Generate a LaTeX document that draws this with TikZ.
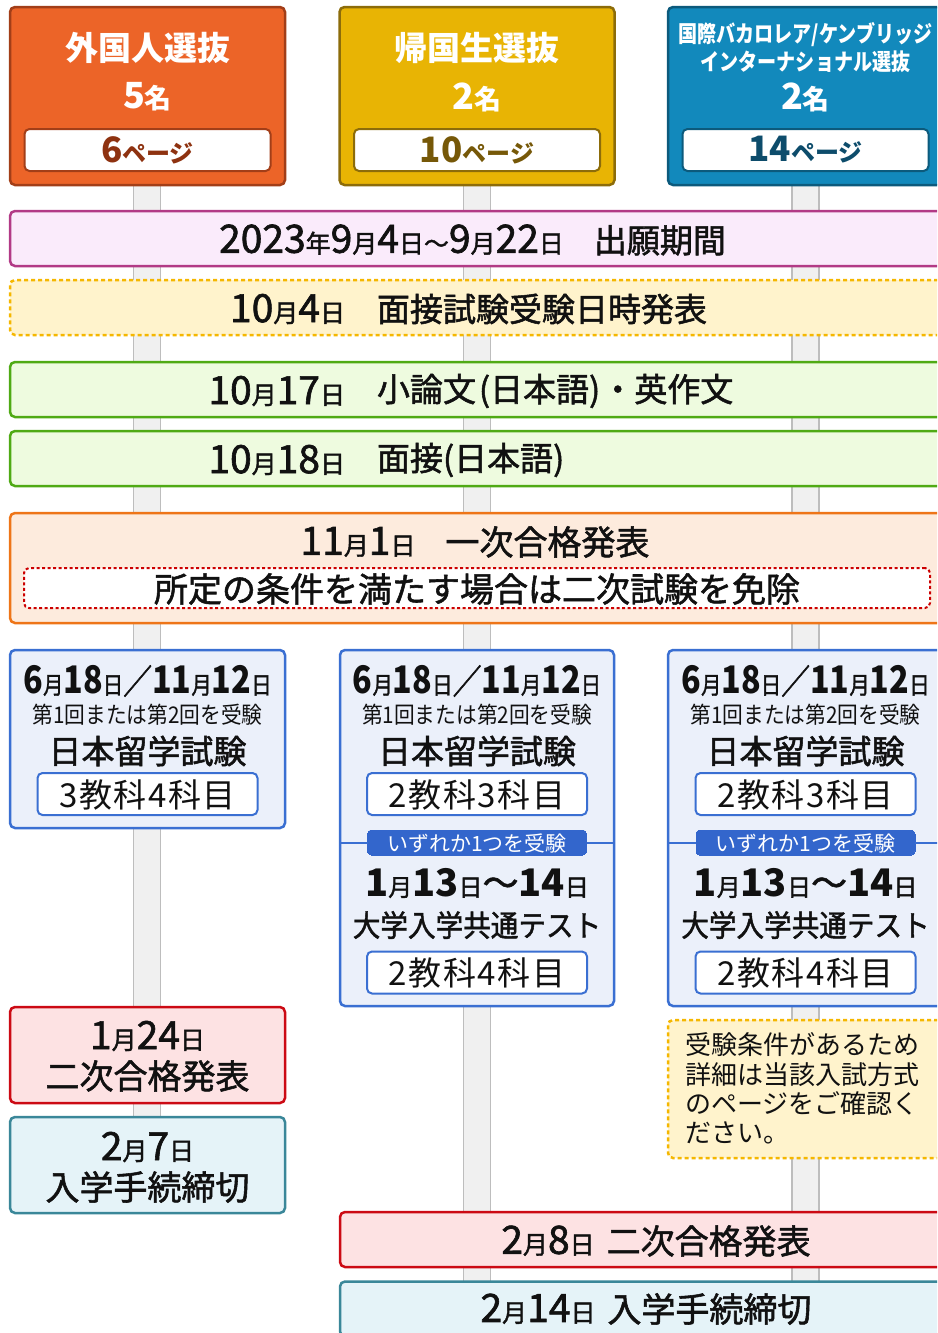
\documentclass[tikz,border=0pt]{standalone}
\usepackage{fontspec}
\usepackage{graphicx}
\setmainfont{Noto Sans CJK JP}
\newfontfamily\md[FakeBold=1.6]{Noto Sans CJK JP}
\definecolor{orF}{HTML}{EC6428}
\definecolor{orD}{HTML}{A23E18}
\definecolor{orT}{HTML}{8E3210}
\definecolor{goF}{HTML}{E8B404}
\definecolor{goD}{HTML}{8C6C0A}
\definecolor{goT}{HTML}{765808}
\definecolor{blF}{HTML}{1289BC}
\definecolor{blD}{HTML}{0C5A7C}
\definecolor{blT}{HTML}{0D4C6B}
\definecolor{pilF}{HTML}{F0F0F0}
\definecolor{pilD}{HTML}{BDBDBD}
\definecolor{b1F}{HTML}{FAEBFB}
\definecolor{b1D}{HTML}{B23A86}
\definecolor{yeF}{HTML}{FFF3CC}
\definecolor{yeD}{HTML}{F5B700}
\definecolor{grF}{HTML}{EEFBDF}
\definecolor{grD}{HTML}{4FAA14}
\definecolor{peF}{HTML}{FDEBDD}
\definecolor{peD}{HTML}{EE7518}
\definecolor{rdD}{HTML}{CC0000}
\definecolor{exF}{HTML}{EBF0FA}
\definecolor{exD}{HTML}{3A6FD2}
\definecolor{labF}{HTML}{3366CC}
\definecolor{pkF}{HTML}{FDE2E3}
\definecolor{pkD}{HTML}{CC0A14}
\definecolor{tlF}{HTML}{E5F3F8}
\definecolor{tlD}{HTML}{3A8799}
\definecolor{ink}{HTML}{111111}
\tikzset{
  rbox/.style={rounded corners=5pt, line width=2.5pt, inner sep=0pt, outer sep=0pt},
  ibox/.style={rbox, fill=white, draw=exD, line width=2pt, minimum width=220pt, minimum height=42pt},
  pbox/.style={rbox, fill=white, line width=2pt, minimum width=246pt, minimum height=42pt},
  txt/.style={inner sep=0pt, outer sep=0pt, anchor=center, text=ink, font=\md},
  htxt/.style={inner sep=0pt, outer sep=0pt, anchor=center, font=\normalfont\bfseries},
  pillar/.style={fill=pilF, draw=pilD, line width=1.2pt},
}
\newcommand{\sx}[2]{\scalebox{#1}[1]{#2}}
\newcommand{\fs}[1]{\fontsize{#1}{#1}\selectfont}
\newcommand{\Dg}[1]{{\fs{39}#1}}
\newcommand{\Un}[1]{{\fs{25}#1}}
\newcommand{\Eg}[1]{{\normalfont\bfseries\fs{38}#1}}
\newcommand{\Eu}[1]{{\fs{24}#1}}
\begin{document}
\begin{tikzpicture}[x=1pt,y=-1pt]
\useasboundingbox (0,0) rectangle (937,1333);
\clip (0,0) rectangle (937,1333);
% pillars
\filldraw[pillar] (133.5,185) rectangle (160.5,1213);
\filldraw[pillar] (463.5,185) rectangle (490.5,1345);
\filldraw[pillar] (792,185) rectangle (819,1345);
% header boxes
\node[rbox, fill=orF, draw=orD, minimum width=275pt, minimum height=178pt] (h1) at (147.5,96) {};
\node[pbox, draw=orD] (p1) at (147.5,150) {};
\node[htxt, text=white] (h1t) at (147.5,48) {\fs{33}外国人選抜};
\node[htxt, text=white] (h1n) at (147.5,97) {\fs{36}5\fs{27}名};
\node[htxt, text=orT] (p1t) at (147.5,150) {\fs{35}6\fs{24}ページ};
\node[rbox, fill=goF, draw=goD, minimum width=275pt, minimum height=178pt] (h2) at (477,96) {};
\node[pbox, draw=goD] (p2) at (477,150) {};
\node[htxt, text=white] (h2t) at (477,48) {\fs{33}帰国生選抜};
\node[htxt, text=white] (h2n) at (477,97) {\fs{36}2\fs{27}名};
\node[htxt, text=goT] (p2t) at (477,150) {\fs{35}10\fs{24}ページ};
\node[rbox, fill=blF, draw=blD, minimum width=275pt, minimum height=178pt] (h3) at (805.5,96) {};
\node[pbox, draw=blD] (p3) at (805.5,150) {};
\node[htxt, text=white] (h3t) at (805.5,35) {\sx{0.83}{\fs{23}国際バカロレア/ケンブリッジ}};
\node[htxt, text=white] (h3u) at (805.5,62) {\sx{0.83}{\fs{23}インターナショナル選抜}};
\node[htxt, text=white] (h3n) at (805.5,97) {\fs{36}2\fs{27}名};
\node[htxt, text=blT] (p3t) at (805.5,150) {\fs{35}14\fs{24}ページ};
% bands
\node[rbox, fill=b1F, draw=b1D, minimum width=933pt, minimum height=55pt] (band1) at (476.5,238.5) {};
\node[txt] (band1t) at (472.5,240) {\Dg{2023}\Un{年}\Dg{9}\Un{月}\Dg{4}\Un{日}\Un{〜}\Dg{9}\Un{月}\Dg{22}\Un{日}\hspace{30pt}\fs{33}出願期間};
\node[rbox, fill=yeF, draw=yeD, dashed, dash pattern=on 4pt off 3pt, minimum width=933pt, minimum height=55pt] (band2) at (476.5,307.5) {};
\node[txt, anchor=east] (band2d) at (345,309) {\Dg{10}\Un{月}\Dg{4}\Un{日}};
\node[txt, anchor=west] (band2t) at (377,309) {\fs{33}面接試験受験日時発表};
\node[rbox, fill=grF, draw=grD, minimum width=933pt, minimum height=55pt] (band3) at (476.5,389.5) {};
\node[txt, anchor=east] (band3d) at (345,391) {\Dg{10}\Un{月}\Dg{17}\Un{日}};
\node[txt, anchor=west] (band3t) at (377,391) {\fs{33}小論文\hspace{3pt}(日本語)\hspace{1pt}・英作文};
\node[rbox, fill=grF, draw=grD, minimum width=933pt, minimum height=55pt] (band4) at (476.5,458.5) {};
\node[txt, anchor=east] (band4d) at (345,460) {\Dg{10}\Un{月}\Dg{18}\Un{日}};
\node[txt, anchor=west] (band4t) at (377,460) {\fs{33}面接(日本語)};
\node[rbox, fill=peF, draw=peD, minimum width=933pt, minimum height=110pt] (band5) at (476.5,568) {};
\node[txt] (band5t) at (475,542) {\Dg{11}\Un{月}\Dg{1}\Un{日}\hspace{30pt}\fs{34}一次合格発表};
\node[rbox, fill=white, draw=rdD, line width=2pt, dashed, dash pattern=on 3pt off 2.5pt, minimum width=906pt, minimum height=40pt] (exempt) at (477,588) {};
\node[txt] (exemptt) at (477,589) {\fs{34}所定の条件を満たす場合は二次試験を免除};
% exam boxes
\node[rbox, fill=exF, draw=exD, minimum width=275pt, minimum height=178pt] (ex1) at (147.5,739) {};
\node[rbox, fill=exF, draw=exD, minimum width=274pt, minimum height=356pt] (ex2) at (477,828) {};
\node[rbox, fill=exF, draw=exD, minimum width=275pt, minimum height=356pt] (ex3) at (805.5,828) {};
\foreach \n/\x/\s in {1/147.5/3教科4科目, 2/477/2教科3科目, 3/805.5/2教科3科目}{
  \node[txt] (ex\n d) at (\x,681) {\sx{0.85}{\Eg{6}\Eu{月}\Eg{18}\Eu{日}{\fs{34}／}\Eg{11}\Eu{月}\Eg{12}\Eu{日}}};
  \node[txt, font=\normalfont] (ex\n s) at (\x,715) {\sx{0.9}{\fs{23}第1回または第2回を受験}};
  \node[txt] (ex\n n) at (\x,751) {\fs{33}日本留学試験};
  \node[ibox] (ex\n b) at (\x,794) {};
  \node[txt, font=\normalfont] (ex\n bt) at (\x,795) {\fs{33}\addfontfeature{LetterSpace=5}\s};
}
\foreach \n/\x in {2/477, 3/805.5}{
  \node[rbox, rounded corners=4pt, fill=labF, draw=labF, line width=0pt, minimum width=219pt, minimum height=25pt] (lab\n) at (\x,842.5) {};
  \draw[exD, line width=2pt] (ex\n.west |- lab\n.center) -- (lab\n.west);
  \draw[exD, line width=2pt] (lab\n.east) -- (ex\n.east |- lab\n.center);
  \node[txt, text=white, font=\normalfont] (lab\n t) at (\x,843) {\fs{21}いずれか1つを受験};
  \node[txt] (ex\n c) at (\x,883) {\Eg{1}\Eu{月}\Eg{13}\Eu{日}{\fs{36}〜}\Eg{14}\Eu{日}};
  \node[txt] (ex\n k) at (\x,925) {\sx{0.92}{\fs{30}大学入学共通テスト}};
  \node[ibox] (ex\n e) at (\x,972.5) {};
  \node[txt, font=\normalfont] (ex\n et) at (\x,973) {\fs{33}\addfontfeature{LetterSpace=5}2教科4科目};
}
% column 1 bottom
\node[rbox, fill=pkF, draw=pkD, minimum width=275pt, minimum height=96pt] (r1) at (147.5,1055) {};
\node[txt] (r1d) at (147.5,1036) {\Dg{1}\Un{月}\Dg{24}\Un{日}};
\node[txt] (r1t) at (147.5,1076) {\fs{34}二次合格発表};
\node[rbox, fill=tlF, draw=tlD, minimum width=275pt, minimum height=96pt] (r2) at (147.5,1165) {};
\node[txt] (r2d) at (147.5,1147) {\Dg{2}\Un{月}\Dg{7}\Un{日}};
\node[txt] (r2t) at (147.5,1187) {\fs{34}入学手続締切};
% note
\node[rbox, fill=yeF, draw=yeD, dashed, dash pattern=on 4pt off 3pt, minimum width=275pt, minimum height=138pt] (note) at (805.5,1089) {};
\node[txt, anchor=west, font=\normalfont] (n1) at (685,1045) {\fs{26}受験条件があるため};
\node[txt, anchor=west, font=\normalfont] (n2) at (685,1075) {\fs{26}詳細は当該入試方式};
\node[txt, anchor=west, font=\normalfont] (n3) at (685,1104) {\fs{26}のページをご確認く};
\node[txt, anchor=west, font=\normalfont] (n4) at (685,1133) {\fs{26}ださい。};
% bottom bands
\node[rbox, fill=pkF, draw=pkD, minimum width=603pt, minimum height=55pt] (f1) at (641.5,1239.5) {};
\node[txt] (f1t) at (656,1241) {\Dg{2}\Un{月}\Dg{8}\Un{日}\hspace{12pt}\fs{34}二次合格発表};
\node[rbox, fill=tlF, draw=tlD, minimum width=603pt, minimum height=55pt] (f2) at (641.5,1309) {};
\node[txt] (f2t) at (646,1309) {\Dg{2}\Un{月}\Dg{14}\Un{日}\hspace{12pt}\fs{34}入学手続締切};
\end{tikzpicture}
\end{document}
